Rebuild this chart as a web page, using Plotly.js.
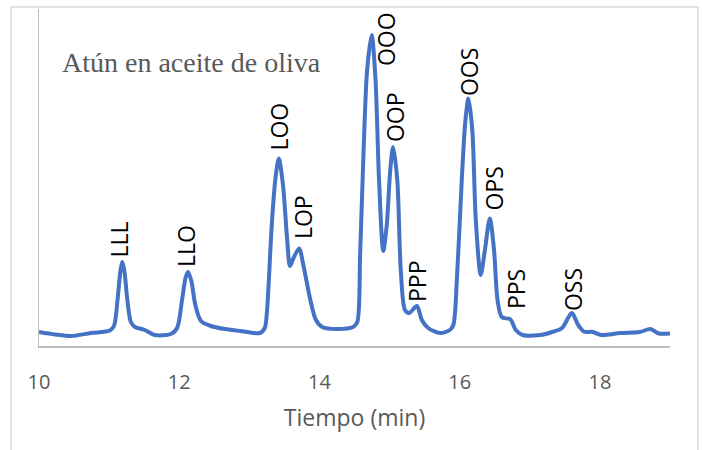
<!DOCTYPE html>
<html>
<head>
<meta charset="utf-8">
<script src="https://cdn.plot.ly/plotly-3.0.1.min.js"></script>
<style>
  html, body { margin: 0; padding: 0; background: #fff; }
  #chart { width: 702px; height: 450px; }
</style>
</head>
<body>
<div id="chart"></div>
<script>
// Retention time (min)
const tiempo = [10.00, 10.23, 10.46, 10.74, 11.01, 11.07, 11.12, 11.16, 11.19, 11.22, 11.26, 11.31, 11.37, 11.51, 11.65, 11.88, 11.97, 12.04, 12.09, 12.125, 12.17, 12.23, 12.31, 12.45, 12.65, 12.87, 13.15, 13.22, 13.25, 13.32, 13.37, 13.42, 13.48, 13.54, 13.58, 13.63, 13.71, 13.77, 13.87, 13.95, 14.04, 14.25, 14.48, 14.54, 14.58, 14.63, 14.68, 14.745, 14.80, 14.85, 14.91, 14.96, 15.01, 15.05, 15.11, 15.16, 15.22, 15.28, 15.39, 15.46, 15.55, 15.72, 15.86, 15.91, 15.96, 16.03, 16.08, 16.125, 16.18, 16.23, 16.30, 16.36, 16.43, 16.49, 16.54, 16.60, 16.725, 16.80, 16.90, 17.15, 17.32, 17.46, 17.60, 17.69, 17.77, 17.90, 18.02, 18.29, 18.57, 18.72, 18.84, 19.00];
// Detector signal (arbitrary units)
const senal = [14, 11.5, 10, 13, 15.5, 20, 46, 74, 84, 74, 46, 24, 19, 16, 11, 12, 18, 46, 68, 74, 66, 41, 25, 20, 17, 15, 13, 18, 33, 121, 166, 187.5, 161, 106, 80, 88, 97.5, 81, 46, 26, 19, 17, 19, 24, 91, 196, 276, 311, 266, 166, 95, 121, 176, 199, 166, 76, 36, 33, 40, 26, 18, 13, 16, 21, 66, 166, 224, 247.5, 216, 126, 71, 96, 127.5, 96, 46, 29, 26.5, 16, 11, 11, 14, 18, 33, 21, 14.5, 14, 11, 13, 14, 17, 12.5, 12.5];

// Peak labels and where they sit
const picos = ['LLL', 'LLO', 'LOO', 'LOP', 'OOO', 'OOP', 'PPP', 'OOS', 'OPS', 'PPS', 'OSS'];
const picoX = [11.148, 12.097, 13.417, 13.766, 14.95, 15.078, 15.392, 16.134, 16.484, 16.805, 17.61];
const picoY = [88, 78, 194, 106, 279, 203, 43, 249, 134, 36, 34];

const ticks = [10, 12, 14, 16, 18];

const annotations = picos.map((t, i) => ({
  x: picoX[i], y: picoY[i], xref: 'x', yref: 'y',
  text: t, showarrow: false, textangle: -90,
  xanchor: 'center', yanchor: 'bottom', borderpad: 0,
  font: { family: 'Open Sans, sans-serif', size: 23, color: '#000000' }
}));

annotations.push({
  xref: 'paper', yref: 'paper', x: 0.034, y: 0.84,
  xanchor: 'left', yanchor: 'middle', showarrow: false,
  text: 'Atún en aceite de oliva',
  font: { family: 'Liberation Serif, Times New Roman, serif', size: 28, color: '#595959' }
});

const trace = {
  x: tiempo, y: senal, type: 'scatter', mode: 'lines',
  line: { color: '#4472C4', width: 4, shape: 'spline', smoothing: 0.8 },
  hoverinfo: 'skip'
};

const layout = {
  width: 702, height: 450,
  margin: { l: 39, r: 32, t: 9, b: 104 },
  paper_bgcolor: '#ffffff', plot_bgcolor: '#ffffff',
  showlegend: false,
  xaxis: {
    range: [10, 19], tickvals: ticks, ticktext: ticks.map(String),
    showgrid: false, zeroline: false, ticks: '',
    showline: true, linecolor: '#bfbfbf', linewidth: 1.5,
    ticklabelstandoff: 17,
    tickfont: { family: 'Open Sans, sans-serif', size: 20, color: '#595959' },
    title: { text: 'Tiempo (min)', standoff: 16,
      font: { family: 'Open Sans, sans-serif', size: 23, color: '#595959' } }
  },
  yaxis: {
    range: [0, 337], showticklabels: false, ticks: '',
    showgrid: false, zeroline: false,
    showline: true, linecolor: '#bfbfbf', linewidth: 1.5
  },
  shapes: [{
    type: 'rect', xref: 'paper', yref: 'paper',
    x0: -0.0444, x1: 1.0444, y0: -0.32, y1: 1.0059,
    line: { color: '#d9d9d9', width: 1.5 }, fillcolor: 'rgba(0,0,0,0)', layer: 'below'
  }],
  annotations: annotations
};

Plotly.newPlot('chart', [trace], layout, { staticPlot: true, displayModeBar: false });
</script>
</body>
</html>
